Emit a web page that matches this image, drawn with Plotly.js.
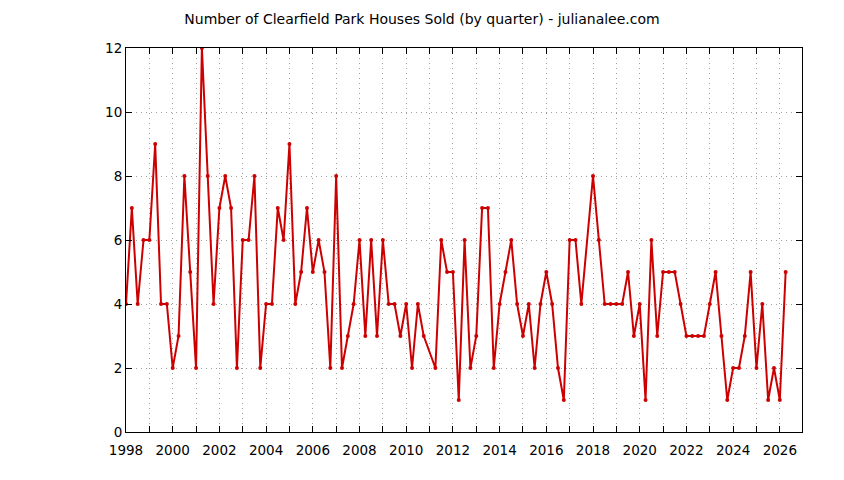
<!DOCTYPE html>
<html>
<head>
<meta charset="utf-8">
<script src="https://cdn.plot.ly/plotly-3.0.1.min.js"></script>
<style>html,body{margin:0;padding:0;background:#fff;}</style>
</head>
<body>
<div id="chart" style="width:844px;height:480px;"></div>
<script>
// quarter start dates (decimal years) and houses sold
const quarters = [
  1998.0,1998.25,1998.5,1998.75,
  1999.0,1999.25,1999.5,1999.75,
  2000.0,2000.25,2000.5,2000.75,
  2001.0,2001.25,2001.5,2001.75,
  2002.0,2002.25,2002.5,2002.75,
  2003.0,2003.25,2003.5,2003.75,
  2004.0,2004.25,2004.5,2004.75,
  2005.0,2005.25,2005.5,2005.75,
  2006.0,2006.25,2006.5,2006.75,
  2007.0,2007.25,2007.5,2007.75,
  2008.0,2008.25,2008.5,2008.75,
  2009.0,2009.25,2009.5,2009.75,
  2010.0,2010.25,2010.5,2010.75,
  2011.25,2011.5,2011.75,
  2012.0,2012.25,2012.5,2012.75,
  2013.0,2013.25,2013.5,2013.75,
  2014.0,2014.25,2014.5,2014.75,
  2015.0,2015.25,2015.5,2015.75,
  2016.0,2016.25,2016.5,2016.75,
  2017.0,2017.25,2017.5,
  2018.0,2018.25,2018.5,2018.75,
  2019.0,2019.25,2019.5,2019.75,
  2020.0,2020.25,2020.5,2020.75,
  2021.0,2021.25,2021.5,2021.75,
  2022.0,2022.25,2022.5,2022.75,
  2023.0,2023.25,2023.5,2023.75,
  2024.0,2024.25,2024.5,2024.75,
  2025.0,2025.25,2025.5,2025.75,
  2026.0,2026.25
];
const housesSold = [
  4,7,4,6,
  6,9,4,4,
  2,3,8,5,
  2,12,8,4,
  7,8,7,2,
  6,6,8,2,
  4,4,7,6,
  9,4,5,7,
  5,6,5,2,
  8,2,3,4,
  6,3,6,3,
  6,4,4,3,
  4,2,4,3,
  2,6,5,
  5,1,6,2,
  3,7,7,2,
  4,5,6,4,
  3,4,2,4,
  5,4,2,1,
  6,6,4,
  8,6,4,4,
  4,4,5,3,
  4,1,6,3,
  5,5,5,4,
  3,3,3,3,
  4,5,3,1,
  2,2,3,5,
  2,4,1,2,
  1,5
];
const yearTicks = [];
const yearLabels = [];
for (let y = 1998; y <= 2026; y++) { yearTicks.push(y); yearLabels.push(y % 2 === 0 ? String(y) : ''); }
const yTicks = [0,2,4,6,8,10,12];
const titleText = 'Number of Clearfield Park Houses Sold (by quarter) - julianalee.com';

const font = {family: 'DejaVu Sans, sans-serif', size: 13.5, color: '#000'};
const data = [{
  x: quarters, y: housesSold, type: 'scatter', mode: 'lines+markers',
  line: {color: '#cc0000', width: 2},
  marker: {color: '#cc0000', size: 4},
  hoverinfo: 'skip'
}];
const layout = {
  width: 844, height: 480,
  margin: {l: 126, r: 42, t: 48, b: 48},
  paper_bgcolor: '#fff', plot_bgcolor: '#fff',
  font: font,
  showlegend: false,
  title: {text: titleText, font: {family: 'DejaVu Sans, sans-serif', size: 14, color: '#000'}, x: 0.5, xanchor: 'center', y: 0.96, yanchor: 'middle'},
  xaxis: {
    range: [1998, 2026.95], tickvals: yearTicks, ticktext: yearLabels,
    ticks: 'inside', ticklen: 6, tickcolor: '#000', tickwidth: 1,
    showline: true, linecolor: '#000', linewidth: 1, mirror: 'ticks',
    showgrid: true, gridcolor: '#a0a0a0', griddash: '1px,4px', gridwidth: 1,
    zeroline: false, tickfont: font, ticklabelstandoff: 6
  },
  yaxis: {
    range: [0, 12], tickvals: yTicks,
    ticks: 'inside', ticklen: 6, tickcolor: '#000', tickwidth: 1,
    showline: true, linecolor: '#000', linewidth: 1, mirror: 'ticks',
    showgrid: true, gridcolor: '#a0a0a0', griddash: '1px,4px', gridwidth: 1,
    zeroline: false, tickfont: font
  }
};
Plotly.newPlot('chart', data, layout, {staticPlot: true, displayModeBar: false});
</script>
</body>
</html>
